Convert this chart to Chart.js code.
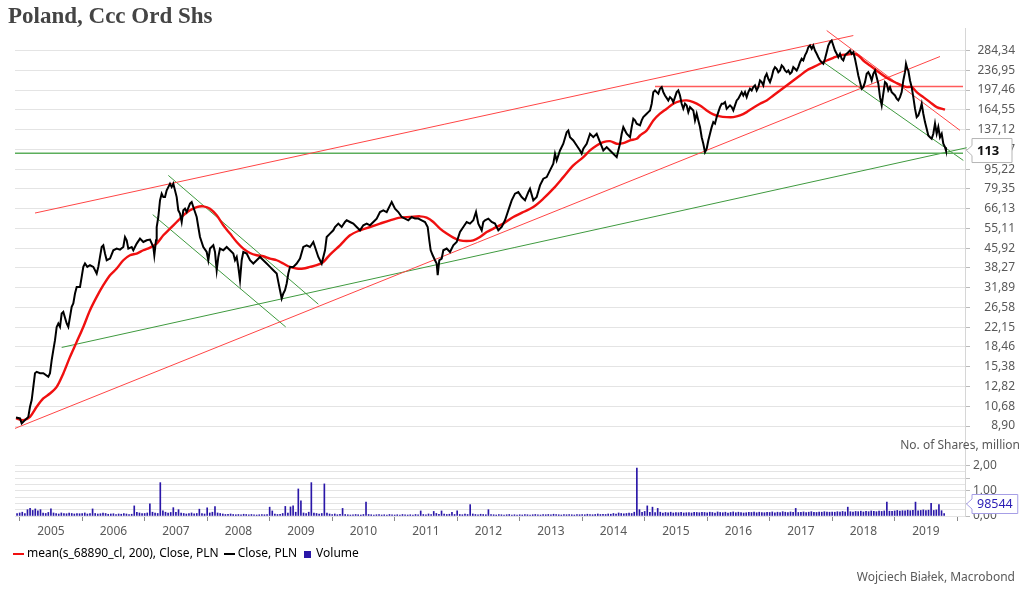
<!DOCTYPE html>
<html><head><meta charset="utf-8">
<script src="https://cdn.jsdelivr.net/npm/chart.js@4.4.1/dist/chart.umd.min.js"></script>
<style>html,body{margin:0;padding:0;background:#fff;}canvas{display:block;}</style>
</head><body>
<canvas id="c" width="1024" height="594"></canvas>
<script>
const chartTitle = 'Poland, Ccc Ord Shs';
const creditText = 'Wojciech Białek, Macrobond';
const volumeUnit = 'No. of Shares, million';
const legendLabels = ['mean(s_68890_cl, 200), Close, PLN', 'Close, PLN', 'Volume'];
const yearLabels = [2005,2006,2007,2008,2009,2010,2011,2012,2013,2014,2015,2016,2017,2018,2019];
const priceTicks = [8.90,10.68,12.82,15.38,18.46,22.15,26.58,31.89,38.27,45.92,55.11,66.13,79.35,95.22,114.27,137.12,164.55,197.46,236.95,284.34];
const volumeTicks = [0,0.25,0.5,0.75,1,1.25,1.5,1.75,2];

// [decimal year, close PLN]
const close = [
[2004.941,9.64],[2005.005,9.55],[2005.032,9.12],[2005.085,9.40],[2005.138,9.69],[2005.165,10.63],[2005.192,11.31],[2005.218,12.78],[2005.245,14.50],[2005.272,14.68],[2005.325,14.50],[2005.378,14.50],[2005.458,14.02],[2005.485,14.50],[2005.512,16.34],[2005.538,17.92],[2005.565,19.65],[2005.592,22.21],[2005.618,22.92],[2005.645,22.21],[2005.672,25.12],[2005.698,25.50],[2005.752,22.92],[2005.778,22.21],[2005.805,24.35],[2005.832,26.73],[2005.858,27.58],[2005.885,30.24],[2005.912,32.13],[2005.965,32.13],[2005.992,35.22],[2006.018,38.63],[2006.045,39.85],[2006.082,38.63],[2006.125,39.23],[2006.178,38.63],[2006.232,36.34],[2006.258,38.63],[2006.285,42.35],[2006.312,46.43],[2006.338,47.16],[2006.365,43.69],[2006.392,41.08],[2006.445,41.73],[2006.498,45.04],[2006.552,45.75],[2006.605,45.32],[2006.658,46.43],[2006.685,50.90],[2006.712,49.38],[2006.738,45.75],[2006.792,46.43],[2006.818,45.04],[2006.872,47.91],[2006.925,50.16],[2006.978,48.61],[2007.032,49.38],[2007.085,49.70],[2007.138,46.43],[2007.154,43.01],[2007.181,49.38],[2007.192,55.83],[2007.218,61.21],[2007.245,71.38],[2007.272,75.92],[2007.298,73.58],[2007.325,73.58],[2007.352,78.26],[2007.378,80.68],[2007.405,83.24],[2007.432,80.68],[2007.458,83.24],[2007.485,78.26],[2007.512,73.58],[2007.538,65.10],[2007.565,63.21],[2007.592,58.46],[2007.618,65.10],[2007.645,66.13],[2007.672,64.09],[2007.725,69.24],[2007.752,70.27],[2007.778,67.11],[2007.805,64.09],[2007.832,61.21],[2007.858,55.83],[2007.885,50.90],[2007.938,46.43],[2007.992,44.34],[2008.018,41.08],[2008.045,45.75],[2008.098,47.16],[2008.125,44.34],[2008.152,37.46],[2008.178,42.35],[2008.205,45.75],[2008.258,45.04],[2008.312,46.43],[2008.365,45.04],[2008.418,43.69],[2008.445,41.08],[2008.472,42.35],[2008.498,38.63],[2008.525,34.17],[2008.552,41.08],[2008.578,44.34],[2008.632,43.69],[2008.685,41.08],[2008.738,39.85],[2008.792,41.08],[2008.845,42.35],[2008.898,41.08],[2008.952,39.85],[2009.005,38.63],[2009.058,37.46],[2009.112,36.34],[2009.138,33.64],[2009.165,31.17],[2009.192,28.87],[2009.218,30.24],[2009.245,31.17],[2009.272,33.15],[2009.298,36.34],[2009.325,38.63],[2009.378,38.63],[2009.432,39.85],[2009.485,41.73],
[2009.538,46.43],[2009.592,47.16],[2009.645,46.43],[2009.698,48.61],[2009.725,46.43],[2009.778,42.35],[2009.832,39.85],[2009.885,45.04],[2009.912,50.90],[2009.965,52.52],[2010.018,54.14],[2010.045,55.83],[2010.098,57.60],[2010.152,55.83],[2010.205,58.46],[2010.232,59.38],[2010.285,58.46],[2010.338,57.60],[2010.392,55.83],[2010.445,54.14],[2010.498,56.71],[2010.552,57.60],[2010.605,56.71],[2010.658,58.46],[2010.712,60.31],[2010.765,64.09],[2010.818,65.10],[2010.872,64.09],[2010.925,68.17],[2010.952,70.27],[2011.005,66.13],[2011.058,64.09],[2011.112,61.21],[2011.165,60.31],[2011.218,59.38],[2011.272,61.21],[2011.325,60.31],[2011.378,60.31],[2011.432,59.38],[2011.485,58.46],[2011.528,55.83],[2011.554,49.38],[2011.576,45.04],[2011.608,43.01],[2011.645,41.08],[2011.672,39.85],[2011.688,35.78],[2011.714,41.08],[2011.752,41.73],[2011.778,45.04],[2011.832,45.75],[2011.885,44.34],[2011.938,47.16],[2011.992,48.61],[2012.045,53.30],[2012.098,55.83],[2012.152,58.46],[2012.205,57.60],[2012.258,59.38],[2012.301,64.09],[2012.338,57.60],[2012.392,54.14],[2012.418,58.46],[2012.445,59.38],[2012.498,60.31],[2012.552,58.46],[2012.605,57.60],[2012.658,54.14],[2012.712,55.83],[2012.765,59.38],[2012.818,65.10],[2012.872,71.38],[2012.925,75.92],[2012.978,77.04],[2013.032,73.58],[2013.085,71.38],[2013.138,77.04],[2013.165,79.50],[2013.218,71.38],[2013.272,73.58],[2013.325,81.95],[2013.378,87.16],[2013.432,88.45],[2013.485,94.07],[2013.538,100.07],[2013.565,109.71],[2013.592,103.15],[2013.645,113.09],[2013.698,120.33],[2013.752,133.87],[2013.778,135.97],[2013.805,127.83],[2013.858,124.04],[2013.912,118.44],[2013.965,113.09],[2013.992,109.71],[2014.018,114.9],[2014.072,120.33],[2014.125,131.90],[2014.178,127.83],[2014.232,131.90],[2014.285,122.0],
[2014.338,113.09],[2014.392,116.6],[2014.445,113.09],[2014.498,109.71],[2014.552,106.33],[2014.578,113.09],[2014.605,120.33],[2014.632,131.90],[2014.658,140.32],[2014.685,135.97],[2014.712,131.90],[2014.765,127.83],[2014.792,140.32],[2014.818,151.58],[2014.845,149.23],[2014.872,144.77],[2014.925,142.52],[2014.952,149.23],[2014.978,153.83],[2015.032,158.72],[2015.058,161.07],[2015.085,163.61],[2015.112,174.05],[2015.138,193.66],[2015.165,196.70],[2015.192,193.66],[2015.218,190.83],[2015.245,199.83],[2015.272,202.81],[2015.298,193.66],[2015.325,187.87],[2015.378,179.43],[2015.405,184.94],[2015.432,182.24],[2015.458,176.63],[2015.485,184.94],[2015.512,193.66],[2015.538,196.70],[2015.565,187.87],[2015.592,174.05],[2015.618,166.23],[2015.645,174.05],[2015.672,171.35],[2015.698,161.07],[2015.725,168.70],[2015.778,163.61],[2015.805,149.23],[2015.832,158.72],[2015.858,149.23],[2015.885,140.32],[2015.912,127.83],[2015.938,120.33],[2015.965,111.34],[2015.992,114.9],[2016.018,124.04],[2016.045,131.90],[2016.072,140.32],[2016.098,146.93],[2016.125,144.77],[2016.152,153.83],[2016.178,161.07],[2016.205,168.70],[2016.232,174.05],[2016.258,174.05],[2016.285,176.63],[2016.312,166.23],[2016.338,168.70],[2016.365,171.35],[2016.392,168.70],[2016.418,163.61],[2016.445,171.35],[2016.472,179.43],[2016.498,182.24],[2016.525,187.87],[2016.552,193.66],[2016.578,187.87],[2016.605,193.66],[2016.632,184.94],[2016.658,193.66],[2016.685,199.83],[2016.712,196.70],[2016.738,202.81],[2016.765,206.01],[2016.792,196.70],[2016.818,202.81],[2016.845,215.71],[2016.872,212.35],[2016.898,206.01],[2016.925,222.32],[2016.952,229.41],[2016.978,219.10],[2017.005,212.35],[2017.032,222.32],[2017.058,236.52],[2017.085,243.82],[2017.112,240.25],[2017.138,232.80],[2017.165,236.52],[2017.192,247.66],[2017.218,243.82],[2017.245,236.52],[2017.272,232.80],[2017.298,236.52],[2017.325,229.41],[2017.352,232.80],[2017.378,243.82],[2017.405,240.25],[2017.432,236.52],[2017.458,243.82],[2017.485,255.29],[2017.512,263.39],[2017.538,259.32],[2017.565,271.78],[2017.592,279.89],[2017.618,293.10],[2017.645,297.73],[2017.672,288.8],[2017.698,297.73],[2017.725,284.34],[2017.752,275.81],[2017.778,267.30],[2017.805,259.32],[2017.832,255.29],[2017.858,251.57],[2017.885,263.39],[2017.912,279.89],[2017.938,297.73],[2017.965,306.92],[2017.992,311.75],[2018.018,297.73],[2018.045,284.34],[2018.072,275.81],[2018.098,267.30],[2018.125,275.81],[2018.152,263.39],[2018.178,259.32],[2018.205,271.78],[2018.232,275.81],[2018.258,279.89],[2018.285,284.34],[2018.312,275.81],[2018.338,279.89],[2018.365,263.39],[2018.392,243.82],[2018.418,225.85],[2018.445,212.35],[2018.472,199.83],[2018.498,202.81],[2018.525,212.35],[2018.552,229.41],[2018.578,232.80],[2018.605,225.85],[2018.632,215.71],[2018.658,229.41],[2018.685,236.52],[2018.712,222.32],[2018.738,209.25],[2018.765,184.94],[2018.792,171.35],[2018.818,190.83],[2018.845,212.35],[2018.872,209.25],[2018.898,196.70],[2018.925,202.81],[2018.952,193.66],[2018.978,190.83],[2019.005,187.87],[2019.032,182.24],[2019.058,179.43],[2019.085,184.94],[2019.112,193.66],[2019.138,215.71],[2019.165,232.80],[2019.181,251.57],[2019.202,240.25],[2019.218,236.52],[2019.245,215.71],[2019.272,202.81],[2019.298,184.94],[2019.325,166.23],[2019.352,153.83],[2019.378,156.26],[2019.405,163.61],[2019.432,174.05],[2019.458,158.72],[2019.485,146.93],[2019.512,138.27],[2019.538,129.85],[2019.565,127.83],[2019.592,125.97],[2019.618,131.90],[2019.645,144.77],[2019.672,131.90],[2019.698,140.32],[2019.725,127.83],[2019.752,131.90],[2019.778,120.33],[2019.805,116.6],[2019.821,113]
];

// [decimal year, 200-day mean of close]
const mean200 = [
[2004.941,9.55],[2005.058,9.40],[2005.165,9.69],[2005.272,10.63],[2005.378,11.49],[2005.485,12.02],[2005.592,12.78],[2005.698,14.46],[2005.805,16.85],[2005.912,19.35],[2006.018,22.21],[2006.125,25.90],[2006.232,29.30],[2006.338,32.63],[2006.445,35.78],[2006.552,38.05],[2006.658,41.08],[2006.765,43.01],[2006.872,43.69],[2006.978,45.04],[2007.085,46.18],[2007.192,47.91],[2007.298,51.70],[2007.405,55.00],[2007.512,58.46],[2007.618,62.17],[2007.725,65.10],[2007.832,67.11],[2007.938,67.54],[2008.045,66.13],[2008.152,62.17],[2008.258,56.71],[2008.365,52.52],[2008.472,48.61],[2008.578,45.75],[2008.685,43.93],[2008.792,43.01],[2008.898,42.62],[2009.005,41.73],[2009.112,41.08],[2009.218,39.85],[2009.325,38.63],[2009.432,38.05],[2009.538,38.05],[2009.645,38.63],[2009.752,39.23],[2009.858,40.44],[2009.965,43.3],[2010.125,47.16],[2010.285,51.70],[2010.445,54.14],[2010.605,55.83],[2010.765,57.60],[2010.925,59.38],[2011.085,60.87],[2011.245,61.21],[2011.405,61.60],[2011.512,60.87],[2011.618,58.46],[2011.725,55.00],[2011.832,52.52],[2011.938,50.62],[2012.045,49.38],[2012.152,49.07],[2012.258,49.38],[2012.365,50.90],[2012.472,53.30],[2012.578,55.00],[2012.738,57.60],[2012.898,61.21],[2013.058,64.09],[2013.218,67.11],[2013.378,72.51],[2013.538,79.50],[2013.698,88.45],[2013.858,98.52],[2014.018,106.33],[2014.125,113.09],[2014.232,118.44],[2014.338,122.10],[2014.445,123.24],[2014.552,120.33],[2014.658,120.96],[2014.765,124.04],[2014.872,125.97],[2014.925,129.85],[2015.032,135.97],[2015.138,149.23],[2015.245,158.72],[2015.352,166.23],[2015.458,174.05],[2015.565,178.26],[2015.672,179.43],[2015.778,176.63],[2015.885,171.35],[2015.992,163.61],[2016.098,157.70],[2016.205,154.82],[2016.312,153.83],[2016.418,153.83],[2016.525,156.26],[2016.632,161.07],[2016.738,167.77],[2016.845,174.05],[2016.952,179.43],[2017.058,187.87],[2017.165,196.70],[2017.272,206.01],[2017.378,215.71],[2017.485,225.85],[2017.592,236.52],[2017.698,243.82],[2017.805,251.57],[2017.912,259.32],[2018.018,265.83],[2018.125,271.78],[2018.232,274.01],[2018.338,275.81],[2018.418,271.78],[2018.498,259.32],[2018.605,247.66],[2018.712,236.52],[2018.818,225.85],[2018.925,217.09],[2019.032,210.40],[2019.112,206.01],[2019.192,202.81],[2019.272,202.81],[2019.352,193.66],[2019.458,184.94],[2019.565,176.63],[2019.672,168.70],[2019.805,164.7]
];

// volume, million shares, half-month steps from volumeStart
const volumeStart = 2004.958;
const volume = [
0.10,
0.12,0.15,0.10,0.25,0.30,0.22,0.28,0.20,0.25,0.12,0.10,0.14,0.28,0.12,0.10,0.08,0.12,0.10,0.09,0.12,0.10,0.08,0.10,0.09,
0.10,0.12,0.08,0.10,0.28,0.10,0.08,0.09,0.12,0.10,0.07,0.08,0.09,0.06,0.08,0.07,0.10,0.08,0.06,0.07,0.40,0.15,0.12,0.10,
0.10,0.12,0.48,0.15,0.12,0.10,1.32,0.20,0.15,0.12,0.14,0.33,0.15,0.25,0.12,0.10,0.08,0.10,0.12,0.09,0.10,0.27,0.10,0.08,
0.32,0.12,0.15,0.37,0.12,0.10,0.08,0.06,0.07,0.08,0.06,0.05,0.06,0.05,0.07,0.06,0.05,0.06,0.05,0.04,0.05,0.06,0.05,0.06,
0.35,0.20,0.08,0.06,0.07,0.10,0.38,0.12,0.36,0.40,0.15,1.07,0.60,0.12,0.10,0.15,1.32,0.12,0.10,0.08,0.10,1.27,0.12,0.08,
0.06,0.08,0.05,0.07,0.30,0.06,0.05,0.04,0.05,0.06,0.05,0.04,0.06,0.55,0.06,0.05,0.04,0.05,0.06,0.04,0.05,0.04,0.06,0.05,
0.04,0.05,0.04,0.06,0.05,0.04,0.05,0.04,0.06,0.05,0.20,0.06,0.05,0.08,0.06,0.18,0.10,0.07,0.20,0.08,0.06,0.07,0.15,0.06,
0.20,0.06,0.05,0.08,0.06,0.45,0.08,0.06,0.05,0.07,0.06,0.05,0.25,0.06,0.05,0.04,0.06,0.05,0.04,0.05,0.06,0.04,0.05,0.04,
0.05,0.04,0.06,0.05,0.04,0.05,0.06,0.05,0.04,0.06,0.05,0.06,0.05,0.07,0.06,0.05,0.04,0.06,0.05,0.06,0.05,0.04,0.06,0.05,
0.06,0.05,0.07,0.06,0.05,0.06,0.08,0.06,0.07,0.06,0.08,0.07,0.10,0.08,0.12,0.10,0.09,0.10,0.12,0.10,0.15,1.90,0.25,0.15,
0.18,0.40,0.15,0.35,0.14,0.30,0.15,0.12,0.14,0.13,0.15,0.12,0.14,0.13,0.15,0.12,0.13,0.14,0.12,0.15,0.14,0.13,0.15,0.14,
0.13,0.15,0.14,0.12,0.16,0.14,0.13,0.15,0.12,0.14,0.16,0.13,0.15,0.14,0.12,0.13,0.15,0.14,0.16,0.13,0.15,0.14,0.13,0.15,
0.14,0.16,0.13,0.15,0.14,0.17,0.15,0.14,0.16,0.15,0.30,0.14,0.15,0.16,0.14,0.15,0.17,0.15,0.14,0.16,0.15,0.17,0.16,0.15,
0.16,0.15,0.17,0.16,0.18,0.16,0.35,0.17,0.16,0.18,0.17,0.19,0.16,0.18,0.17,0.20,0.18,0.17,0.19,0.18,0.20,0.55,0.19,0.18,
0.20,0.22,0.19,0.21,0.20,0.23,0.21,0.22,0.55,0.20,0.22,0.24,0.21,0.23,0.50,0.22,0.24,0.45,0.21,0.098544
];

// trend lines: [decimal year, price]
const redUpper = [[2005.245,63.50],[2018.338,326.4]];
const redLong = [[2004.925,8.71],[2019.725,269.0]];
const redFlat = [[2015.165,204.1],[2020.093,204.1]];
const redDown = [[2017.912,341.8],[2020.045,136.1]];
const greenFlat = [[2004.925,110.3],[2020.093,110.3]];
const greenRise = [[2005.672,18.38],[2020.152,115.98]];
const greenDown1 = [[2007.378,89.84],[2009.778,27.40]];
const greenDown2 = [[2007.128,62.57],[2009.256,22.21]];
const greenDown3 = [[2017.858,255.29],[2020.098,103.15]];

const pts = a => a.map(p => ({x: p[0], y: p[1]}));
const fmt = v => v.toFixed(2).replace('.', ',');

function marker(w, h, color) {
  const c = document.createElement('canvas');
  c.width = w; c.height = h;
  const g = c.getContext('2d'); g.fillStyle = color; g.fillRect(0, 0, w, h);
  return c;
}
const RED = '#f01010', BLACK = '#000000', BLUE = '#2a17a8';
const mRed = marker(11, 2, RED), mBlack = marker(11, 2, BLACK), mBlue = marker(7, 7, BLUE);

function trend(data, color, width) {
  return {type: 'line', data: pts(data), borderColor: color, borderWidth: width, pointRadius: 0, yAxisID: 'y', clip: 8, tension: 0};
}

function drawTag(ctx, tipX, y, text, o) {
  ctx.save();
  ctx.font = o.font;
  const tw = ctx.measureText(text).width;
  const bl = tipX + 5.5, pad = 5;
  const w = Math.max(o.minW, tw + 2 * pad);
  const t = y - o.h / 2, b = y + o.h / 2;
  ctx.beginPath();
  ctx.moveTo(tipX, y); ctx.lineTo(bl, y - 5); ctx.lineTo(bl, t); ctx.lineTo(bl + w, t);
  ctx.lineTo(bl + w, b); ctx.lineTo(bl, b); ctx.lineTo(bl, y + 5); ctx.closePath();
  ctx.fillStyle = '#fff'; ctx.fill();
  ctx.strokeStyle = o.border; ctx.lineWidth = 1; ctx.stroke();
  ctx.fillStyle = o.color; ctx.textBaseline = 'middle'; ctx.textAlign = 'left';
  ctx.fillText(text, bl + pad, y + 0.5);
  ctx.restore();
}

const tagPlugin = {
  id: 'tags',
  afterDraw(chart) {
    const ctx = chart.ctx, ys = chart.scales.y, vs = chart.scales.yv;
    const lastClose = close[close.length - 1][1];
    const lastVol = volume[volume.length - 1];
    drawTag(ctx, ys.left + 1.5, ys.getPixelForValue(lastClose), String(Math.round(lastClose)),
      {font: 'bold 13px "Noto Sans"', color: '#111', border: '#b5b5b5', h: 24, minW: 40});
    const vy = Math.min(vs.getPixelForValue(lastVol), vs.bottom - 12);
    drawTag(ctx, vs.left + 1.5, vy, String(Math.round(lastVol * 1e6)),
      {font: '12.5px "Noto Sans"', color: '#2a1db5', border: '#a69ee6', h: 19, minW: 0});
    ctx.save();
    ctx.font = '12px "Noto Sans"'; ctx.fillStyle = '#595959';
    ctx.textAlign = 'right'; ctx.textBaseline = 'middle';
    ctx.fillText(volumeUnit, 1020, vs.top - 6);
    ctx.restore();
  }
};

Chart.defaults.font.family = '"Noto Sans", sans-serif';
Chart.defaults.font.size = 12;
Chart.defaults.color = '#595959';

new Chart(document.getElementById('c'), {
  type: 'line',
  data: {
    datasets: [
      {label: legendLabels[1], data: pts(close), borderColor: BLACK, borderWidth: 2, pointRadius: 0, yAxisID: 'y', tension: 0},
      {label: legendLabels[0], data: pts(mean200), borderColor: RED, borderWidth: 2.4, pointRadius: 0, yAxisID: 'y', tension: 0.3},
      trend(redUpper, '#ff4545', 1),
      trend(redLong, '#ff4545', 1),
      trend(redFlat, '#ff5a5a', 1.5),
      trend(redDown, '#ff4545', 1),
      trend(greenFlat, '#5cae5c', 1.5),
      trend(greenRise, '#3f9a3f', 1),
      trend(greenDown1, '#3f9a3f', 1),
      trend(greenDown2, '#3f9a3f', 1),
      trend(greenDown3, '#3f9a3f', 1),
      {type: 'bar', label: legendLabels[2], data: volume.map((v, i) => ({x: volumeStart + i / 24, y: v})),
       backgroundColor: BLUE, barThickness: 1, yAxisID: 'yv', grouped: false}
    ]
  },
  options: {
    responsive: false, animation: false, events: [], devicePixelRatio: 1,
    layout: {padding: {left: 8, right: 9, top: 0, bottom: 0}},
    scales: {
      x: {
        type: 'linear', min: 2004.925, max: 2020.125, offset: false,
        afterBuildTicks: s => { s.ticks = yearLabels.map(y => ({value: y + 0.5})); },
        afterFit: s => { s.height = 24; },
        ticks: {autoSkip: false, maxRotation: 0, minRotation: 0, padding: 3, color: '#595959',
          callback: (v, i) => String(yearLabels[i])},
        grid: {offset: true, drawOnChartArea: false, drawTicks: true, tickLength: 5, color: '#8a8a8a'},
        border: {display: false}
      },
      yl: {
        type: 'linear', position: 'left', display: true,
        afterFit: s => { s.width = 7; },
        grid: {display: false}, ticks: {display: false}, border: {display: false}
      },
      y: {
        type: 'logarithmic', position: 'right', stack: 'panels', stackWeight: 424,
        min: 7.003, max: 348.3,
        afterBuildTicks: s => { s.ticks = priceTicks.map(v => ({value: v})); },
        afterFit: s => { s.width = 50; },
        ticks: {crossAlign: 'far', padding: 4, color: '#595959', autoSkip: false, callback: v => fmt(v)},
        grid: {color: '#e4e4e4', tickColor: '#bbbbbb', tickLength: 5, drawTicks: true},
        border: {display: true, color: '#d6d6d6'}
      },
      yv: {
        type: 'linear', position: 'right', stack: 'panels', stackWeight: 64,
        min: 0, max: 2.53,
        afterBuildTicks: s => { s.ticks = volumeTicks.map(v => ({value: v})); },
        afterFit: s => { s.width = 50; },
        ticks: {crossAlign: 'near', padding: 3, color: '#595959', autoSkip: false,
          callback: v => (Number.isInteger(v) ? fmt(v) : '')},
        grid: {color: '#e4e4e4', tickLength: 5, drawTicks: true,
          tickColor: c => (c.tick && Number.isInteger(c.tick.value * 2) ? '#bbbbbb' : 'rgba(0,0,0,0)')},
        border: {display: true, color: '#d6d6d6'}
      }
    },
    plugins: {
      title: {display: true, text: chartTitle, align: 'start', color: '#444444',
        font: {family: '"Liberation Serif", serif', size: 23, weight: 'bold', lineHeight: 1.0},
        padding: {top: 5.5, bottom: 0}},
      subtitle: {display: true, text: creditText, position: 'bottom', align: 'end', color: '#595959',
        font: {size: 12}, padding: {top: 0, bottom: 9.6}},
      legend: {
        display: true, position: 'bottom', align: 'start',
        labels: {
          usePointStyle: true, pointStyleWidth: 5, padding: 8, color: '#595959', font: {size: 12},
          generateLabels: () => [
            {text: legendLabels[0], pointStyle: mRed, fillStyle: RED, strokeStyle: RED, lineWidth: 0, hidden: false, datasetIndex: 1},
            {text: legendLabels[1], pointStyle: mBlack, fillStyle: BLACK, strokeStyle: BLACK, lineWidth: 0, hidden: false, datasetIndex: 0},
            {text: legendLabels[2], pointStyle: mBlue, fillStyle: BLUE, strokeStyle: BLUE, lineWidth: 0, hidden: false, datasetIndex: 11}
          ]
        }
      },
      tooltip: {enabled: false}
    }
  },
  plugins: [tagPlugin]
});
</script>
</body></html>
